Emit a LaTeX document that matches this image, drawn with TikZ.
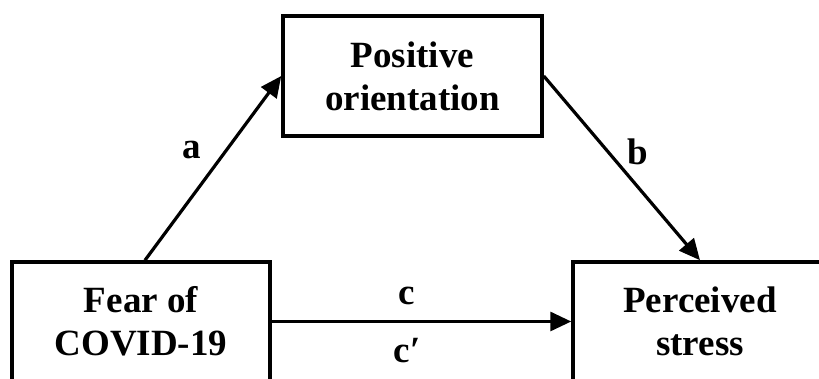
\documentclass[tikz,border=0pt]{standalone}
\usepackage{fontspec}
\setmainfont{Liberation Serif}
\usetikzlibrary{arrows.meta}
\tikzset{
  varbox/.style={draw=black, line width=3.5pt, fill=white, align=center, inner sep=0pt,
    font=\fontsize{37}{43}\selectfont\bfseries},
  patharrow/.style={line width=3.2pt, -{Triangle[length=21pt,width=19pt]}},
  pathlabel/.style={font=\fontsize{37}{43}\selectfont\bfseries, inner sep=0pt, anchor=base}
}
\begin{document}
\begin{tikzpicture}[x=1pt,y=1pt]
\useasboundingbox (0,0) rectangle (819,379);
\clip (0,0) rectangle (819,379);
\fill[white] (0,0) rectangle (819,379);
\node[varbox, minimum width=259pt, minimum height=120pt] (med) at (412.5,303) {Positive\\orientation};
\node[varbox, minimum width=258pt, minimum height=119pt] (x) at (141,57.5) {Fear of\\COVID-19};
\node[varbox, minimum width=254pt, minimum height=119pt] (y) at (700,57.5) {Perceived\\stress};
\draw[patharrow] ([xshift=4pt]x.north) -- (med.west);
\draw[patharrow] (med.east) -- (y.north);
\draw[patharrow] (x.east) -- (y.west);
\node[pathlabel] (la) at (192,220) {a};
\node[pathlabel] (lb) at (638,214) {b};
\node[pathlabel] (lc) at (407,74) {c};
\node[pathlabel] (lcp) at (407,16) {c′};
\end{tikzpicture}
\end{document}
